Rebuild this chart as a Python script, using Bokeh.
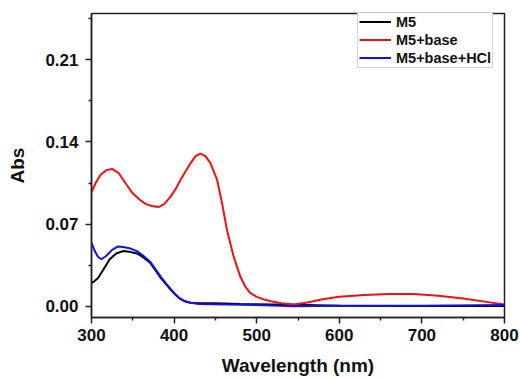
from bokeh.plotting import figure
from bokeh.models import FixedTicker, NumeralTickFormatter, Legend, LegendItem, Range1d
from bokeh.embed import file_html
from bokeh.resources import INLINE

# M5
wl_m5 = [300, 303, 308, 315, 322, 330, 338, 346, 355, 362, 371, 378, 384, 390, 396,
         402, 408, 414, 420, 430, 450, 480, 520, 560, 600, 700, 800]
abs_m5 = [0.020, 0.021, 0.024, 0.032, 0.040, 0.045, 0.047, 0.0465, 0.045, 0.042, 0.037,
          0.030, 0.024, 0.019, 0.014, 0.0095, 0.006, 0.004, 0.003, 0.0025, 0.0025, 0.002,
          0.0015, 0.001, 0.0005, 0.0003, 0.0002]

# M5+base
wl_base = [300, 305, 311, 318, 325, 333, 341, 349, 358, 366, 373, 381, 388, 396, 402,
           408, 414, 420, 426, 432, 438, 444, 452, 458, 464, 472, 480, 486, 492, 500,
           509, 517, 530, 545, 560, 580, 600, 630, 660, 690, 720, 750, 780, 800]
abs_base = [0.097, 0.105, 0.112, 0.116, 0.117, 0.1135, 0.105, 0.097, 0.091, 0.087, 0.0855,
            0.0845, 0.087, 0.0936, 0.100, 0.108, 0.115, 0.122, 0.128, 0.130, 0.128, 0.122,
            0.108, 0.088, 0.065, 0.0425, 0.0255, 0.017, 0.0114, 0.008, 0.0057, 0.0043,
            0.0025, 0.0015, 0.003, 0.006, 0.008, 0.0095, 0.0105, 0.0105, 0.009, 0.0065,
            0.0035, 0.0015]

# M5+base+HCl
wl_hcl = [300, 304, 308, 312, 318, 325, 332, 338, 346, 355, 362, 371, 378, 384, 390, 396,
          402, 408, 414, 420, 430, 500, 545, 600, 700, 800]
abs_hcl = [0.054, 0.047, 0.042, 0.040, 0.043, 0.048, 0.051, 0.0505, 0.0495, 0.047, 0.0435,
           0.038, 0.031, 0.025, 0.0195, 0.0145, 0.0098, 0.006, 0.004, 0.003, 0.002, 0.001,
           0.0, 0.0005, 0.0005, 0.001]

x_ticks = [300, 400, 500, 600, 700, 800]
y_ticks = [0.00, 0.07, 0.14, 0.21]

FONT = "Liberation Sans"

p = figure(width=520, height=378, output_backend="svg", toolbar_location=None,
           x_range=Range1d(300, 800), y_range=Range1d(-0.0096, 0.2495),
           min_border_left=91, min_border_right=16, min_border_top=13, min_border_bottom=60)

p.grid.visible = False
p.background_fill_color = "white"
p.border_fill_color = "white"
p.outline_line_color = "#222222"
p.outline_line_width = 1.5

r_m5 = p.line(wl_m5, abs_m5, line_color="black", line_width=2)
r_base = p.line(wl_base, abs_base, line_color="#f01010", line_width=2)
r_hcl = p.line(wl_hcl, abs_hcl, line_color="#1010f0", line_width=2)

for ax in (p.xaxis[0], p.yaxis[0]):
    ax.axis_line_color = "#222222"
    ax.axis_line_width = 1.5
    ax.major_tick_line_color = "#222222"
    ax.minor_tick_line_color = "#222222"
    ax.major_tick_line_width = 1.5
    ax.minor_tick_line_width = 1.5
    ax.major_tick_in = 0
    ax.major_tick_out = 6
    ax.minor_tick_in = 0
    ax.minor_tick_out = 3
    ax.major_label_text_font = FONT
    ax.major_label_text_font_style = "bold"
    ax.major_label_text_font_size = "17px"
    ax.major_label_text_color = "#111111"
    ax.axis_label_text_font = FONT
    ax.axis_label_text_font_style = "bold"
    ax.axis_label_text_font_size = "19px"
    ax.axis_label_text_color = "#111111"

p.xaxis[0].ticker = FixedTicker(ticks=x_ticks, minor_ticks=[350, 450, 550, 650, 750])
p.yaxis[0].ticker = FixedTicker(ticks=y_ticks, minor_ticks=[0.035, 0.105, 0.175, 0.245])
p.yaxis[0].formatter = NumeralTickFormatter(format="0.00")
p.xaxis[0].axis_label = "Wavelength (nm)"
p.yaxis[0].axis_label = "Abs"
p.xaxis[0].major_label_standoff = 5
p.yaxis[0].major_label_standoff = 7
p.xaxis[0].axis_label_standoff = 11
p.yaxis[0].axis_label_standoff = 14

legend = Legend(items=[LegendItem(label="M5", renderers=[r_m5]),
                       LegendItem(label="M5+base", renderers=[r_base]),
                       LegendItem(label="M5+base+HCl", renderers=[r_hcl])],
                location=(266, 249))
legend.label_text_font = FONT
legend.label_text_font_style = "bold"
legend.label_text_font_size = "14.5px"
legend.label_text_color = "#111111"
legend.glyph_width = 32
legend.glyph_height = 17
legend.label_height = 17
legend.label_standoff = 5
legend.spacing = 1
legend.padding = 1
legend.margin = 0
legend.border_line_color = "#aaaaaa"
legend.border_line_width = 1
legend.background_fill_alpha = 1
p.add_layout(legend, "center")

open("out.html", "w").write(file_html(p, INLINE))
